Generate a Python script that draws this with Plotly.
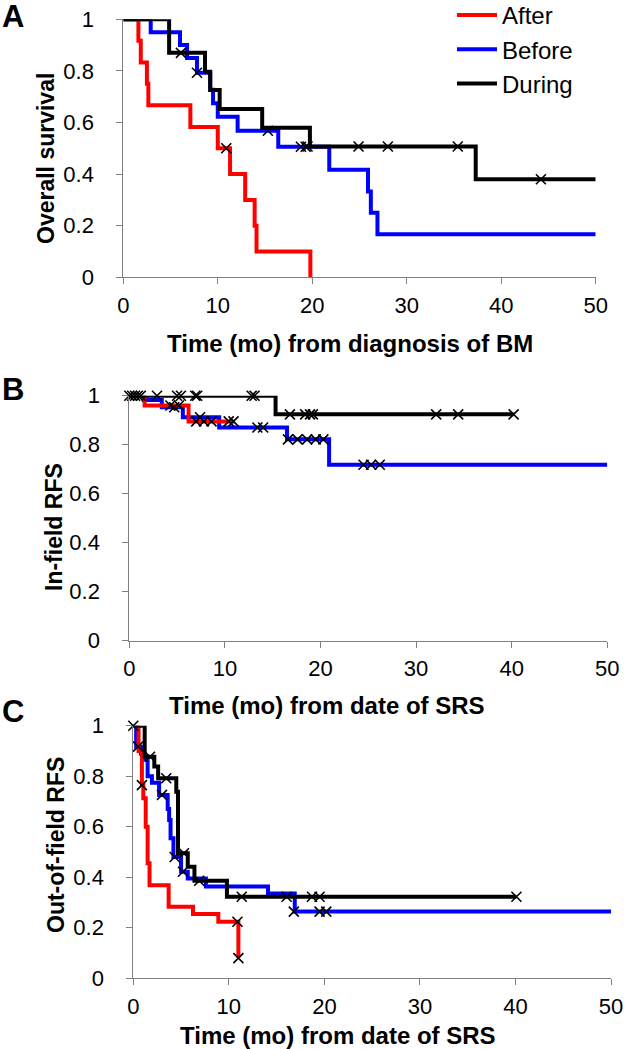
import plotly.graph_objects as go

W, H = 630, 1049
FONT = "Liberation Sans, Arial, sans-serif"
RED, BLUE, BLACK = "#FF0000", "#0000FF", "#000000"

# ---------------- Data ----------------
# Panel A: overall survival vs time from diagnosis of BM
a_after_t = [0, 1.6, 1.85, 2.5, 2.65, 7.1, 10.0, 11.3, 12.9, 13.9, 14.1, 19.8]
a_after_s = [1, 0.917, 0.833, 0.75, 0.667, 0.583, 0.5, 0.4, 0.3, 0.2, 0.1, 0.0]
a_after_end = 19.8
a_after_ct = [10.9]
a_after_cs = [0.5]

a_before_t = [0, 2.9, 6.0, 6.75, 7.8, 9.2, 9.5, 10.0, 12.1, 16.4, 21.8, 25.9, 26.2, 26.9]
a_before_s = [1, 0.95, 0.9, 0.85, 0.793, 0.727, 0.675, 0.622, 0.568, 0.506, 0.417, 0.333, 0.25, 0.167]
a_before_end = 50
a_before_ct = [7.8, 15.3, 18.8, 19.3]
a_before_cs = [0.793, 0.568, 0.506, 0.506]

a_during_t = [0, 4.85, 8.65, 9.2, 10.2, 14.7, 19.75, 37.3]
a_during_s = [1, 0.87, 0.797, 0.726, 0.652, 0.58, 0.507, 0.38]
a_during_end = 50
a_during_ct = [6.1, 19.5, 24.9, 28.0, 35.4, 44.2]
a_during_cs = [0.87, 0.507, 0.507, 0.507, 0.507, 0.38]

# Panel B: in-field RFS vs time from date of SRS
b_after_t = [0, 1.6, 6.2]
b_after_s = [1, 0.96, 0.895]
b_after_end = 11.0
b_after_ct = [4.3, 5.2, 7.0, 7.8, 8.6, 10.4, 10.9]
b_after_cs = [0.96, 0.96, 0.895, 0.895, 0.895, 0.895, 0.895]

b_before_t = [0, 1.5, 3.4, 5.6, 9.4, 16.5, 20.9]
b_before_s = [1, 0.982, 0.953, 0.912, 0.87, 0.822, 0.718]
b_before_end = 50
b_before_ct = [4.7, 7.4, 13.4, 14.0, 16.6, 17.6, 18.6, 19.5, 20.3, 24.5, 25.3, 26.2]
b_before_cs = [0.953, 0.912, 0.87, 0.87, 0.822, 0.822, 0.822, 0.822, 0.822, 0.718, 0.718, 0.718]

b_during_t = [0, 15.3]
b_during_s = [1, 0.924]
b_during_end = 40.2
b_during_ct = [0.0, 0.3, 0.6, 0.9, 1.2, 2.9, 5.0, 5.4, 6.9, 7.1, 12.8, 13.1,
               16.8, 18.4, 18.9, 19.2, 32.1, 34.4, 40.2]
b_during_cs = [1, 1, 1, 1, 1, 1, 1, 1, 1, 1, 1, 1,
               0.924, 0.924, 0.924, 0.924, 0.924, 0.924, 0.924]

# Panel C: out-of-field RFS vs time from date of SRS
c_after_t = [0, 0.55, 0.9, 1.05, 1.3, 1.5, 1.7, 3.7, 6.25, 8.9, 11.0]
c_after_s = [1, 0.9, 0.765, 0.713, 0.6, 0.455, 0.368, 0.283, 0.255, 0.224, 0.08]
c_after_end = 11.0
c_after_ct = [0.9, 10.9, 11.0]
c_after_cs = [0.765, 0.224, 0.08]

c_before_t = [0, 0.3, 0.8, 1.2, 1.5, 1.95, 2.7, 3.6, 3.75, 3.9, 4.2, 5.0, 5.7, 7.6, 14.1, 16.9]
c_before_s = [1, 0.917, 0.89, 0.866, 0.80, 0.774, 0.726, 0.67, 0.627, 0.554, 0.48, 0.422, 0.395, 0.363, 0.336, 0.264]
c_before_end = 50
c_before_ct = [0.5, 3.0, 4.33, 5.2, 16.8, 19.5, 20.2]
c_before_cs = [0.917, 0.726, 0.48, 0.422, 0.264, 0.264, 0.264]

c_during_t = [0, 1.19, 2.2, 2.6, 4.5, 4.68, 5.7, 6.4, 9.8]
c_during_s = [1, 0.877, 0.838, 0.792, 0.739, 0.495, 0.442, 0.386, 0.323]
c_during_end = 40.1
c_during_ct = [0.0, 1.75, 3.45, 5.3, 6.9, 11.35, 16.05, 18.7, 19.5, 40.1]
c_during_cs = [1.0, 0.877, 0.792, 0.495, 0.386, 0.323, 0.323, 0.323, 0.323, 0.323]

x_ticks = [0, 10, 20, 30, 40, 50]
y_ticks = [0, 0.2, 0.4, 0.6, 0.8, 1]
y_tick_text = ["0", "0.2", "0.4", "0.6", "0.8", "1"]

panel_letters = ["A", "B", "C"]
y_titles = ["Overall survival", "In-field RFS", "Out-of-field RFS"]
x_titles = ["Time (mo) from diagnosis of BM", "Time (mo) from date of SRS", "Time (mo) from date of SRS"]
series_names = ["After", "Before", "During"]
series_colors = [RED, BLUE, BLACK]

# ---------------- Layout geometry (pixels) ----------------
# plot areas: (left, right, top, bottom)
areas = [(123.3, 595.7, 19.3, 277.3),
         (129.3, 607.3, 395.7, 640.7),
         (133.3, 611.0, 725.7, 978.3)]
letter_pos = [(13, 17), (13, 389), (13, 711)]
ytitle_pos = [(46, 159), (54, 527), (56, 845)]
xtitle_pos = [(350, 343), (327, 705), (338, 1035)]


def px(x):
    return x / W


def py(y):
    return 1 - y / H


panels = [
    [(a_after_t, a_after_s, a_after_end, a_after_ct, a_after_cs),
     (a_before_t, a_before_s, a_before_end, a_before_ct, a_before_cs),
     (a_during_t, a_during_s, a_during_end, a_during_ct, a_during_cs)],
    [(b_after_t, b_after_s, b_after_end, b_after_ct, b_after_cs),
     (b_before_t, b_before_s, b_before_end, b_before_ct, b_before_cs),
     (b_during_t, b_during_s, b_during_end, b_during_ct, b_during_cs)],
    [(c_after_t, c_after_s, c_after_end, c_after_ct, c_after_cs),
     (c_before_t, c_before_s, c_before_end, c_before_ct, c_before_cs),
     (c_during_t, c_during_s, c_during_end, c_during_ct, c_during_cs)],
]

fig = go.Figure()
layout = dict(
    width=W, height=H,
    margin=dict(l=0, r=0, t=0, b=0, autoexpand=False),
    paper_bgcolor="white", plot_bgcolor="white",
    font=dict(family=FONT, color="black", size=22),
    showlegend=True,
    legend=dict(x=px(452), y=1.0 + 7 / H, xanchor="left", yanchor="top",
                font=dict(size=24, family=FONT), bgcolor="rgba(0,0,0,0)",
                tracegroupgap=0, itemwidth=40),
    annotations=[],
)

for p, series in enumerate(panels):
    sfx = "" if p == 0 else str(p + 1)
    xa, ya = "x" + sfx, "y" + sfx
    for k in [1, 0, 2]:
        t, s, end, ct, cs = series[k]
        xs = list(t)
        ys = list(s)
        if end > xs[-1]:
            xs.append(end)
            ys.append(ys[-1])
        fig.add_trace(go.Scatter(
            x=xs, y=ys, mode="lines", line=dict(shape="hv", color=series_colors[k], width=4),
            name=series_names[k], legendgroup=series_names[k], legendrank=k + 1,
            showlegend=(p == 0), xaxis=xa, yaxis=ya, cliponaxis=False, hoverinfo="skip"))
    for k in [1, 0, 2]:
        t, s, end, ct, cs = series[k]
        fig.add_trace(go.Scatter(
            x=ct, y=cs, mode="markers",
            marker=dict(symbol="x-thin", size=10, line=dict(width=1.6, color="black"), color="black"),
            name=series_names[k] + " censored", showlegend=False, xaxis=xa, yaxis=ya,
            cliponaxis=False, hoverinfo="skip"))

    l, r, tp, bt = areas[p]
    axis_common = dict(showline=True, linecolor="#808080", linewidth=1, ticks="outside",
                       ticklen=6, tickcolor="#808080", tickwidth=1, showgrid=False,
                       zeroline=False, automargin=False,
                       tickfont=dict(size=22, family=FONT, color="black"))
    layout["xaxis" + sfx] = dict(domain=[px(l), px(r)], range=[0, 50], tickvals=x_ticks,
                                 anchor=ya, ticklabelstandoff=2, **axis_common)
    layout["yaxis" + sfx] = dict(domain=[py(bt), py(tp)], range=[0, 1], tickvals=y_ticks,
                                 ticktext=y_tick_text, anchor=xa, ticklabelstandoff=18,
                                 **axis_common)

    layout["annotations"].append(dict(
        text="<b>%s</b>" % panel_letters[p], x=px(letter_pos[p][0]), y=py(letter_pos[p][1]),
        xref="paper", yref="paper", showarrow=False, xanchor="center", yanchor="middle",
        font=dict(size=31, family=FONT, color="black")))
    layout["annotations"].append(dict(
        text="<b>%s</b>" % y_titles[p], x=px(ytitle_pos[p][0]), y=py(ytitle_pos[p][1]),
        xref="paper", yref="paper", showarrow=False, xanchor="center", yanchor="middle",
        textangle=-90, font=dict(size=23, family=FONT, color="black")))
    layout["annotations"].append(dict(
        text="<b>%s</b>" % x_titles[p], x=px(xtitle_pos[p][0]), y=py(xtitle_pos[p][1]),
        xref="paper", yref="paper", showarrow=False, xanchor="center", yanchor="middle",
        font=dict(size=24, family=FONT, color="black")))

fig.update_layout(**layout)
fig.write_html("out.html", config={"displayModeBar": False},
               post_script="document.body.style.margin='0px';document.body.style.overflow='hidden';")
